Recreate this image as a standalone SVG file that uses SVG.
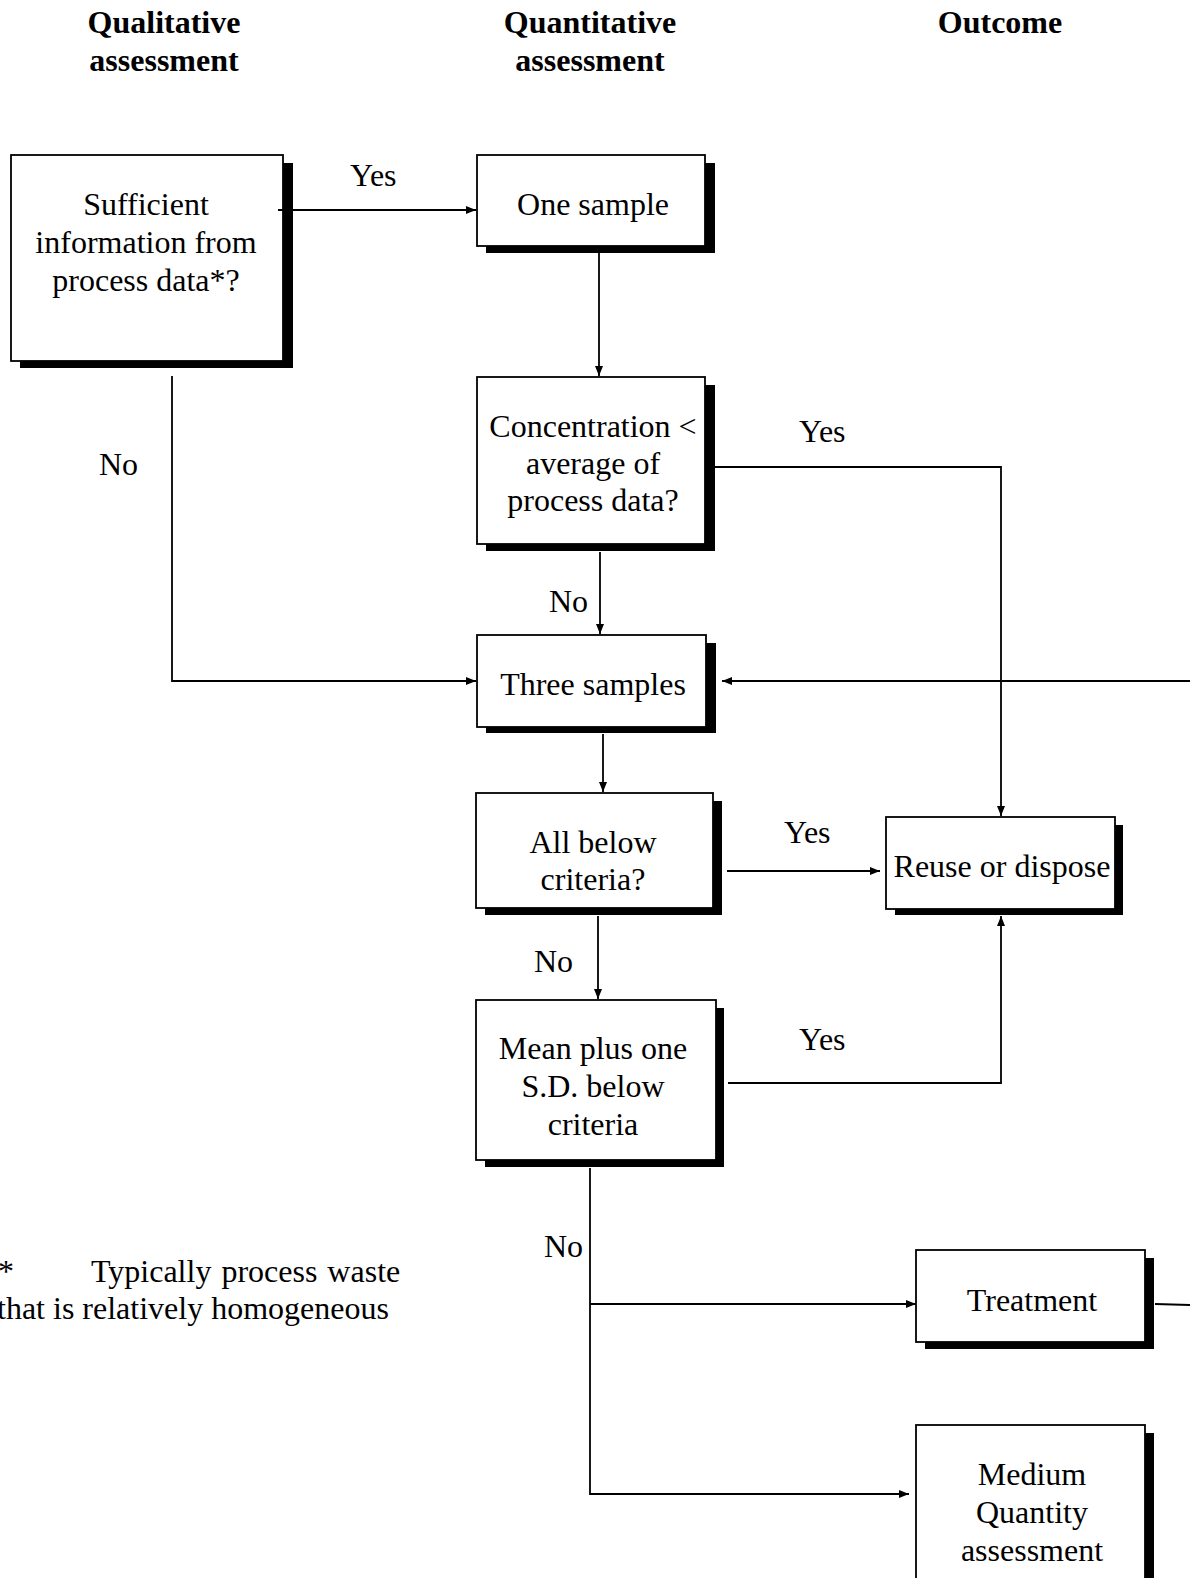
<svg xmlns="http://www.w3.org/2000/svg" width="1190" height="1578" viewBox="0 0 1190 1578">
<style>
text{font-family:"Liberation Serif","Times New Roman",serif;font-size:32px;fill:#000}
.h{font-weight:bold;text-anchor:middle}
.c{text-anchor:middle}
.box{fill:#fff;stroke:#000;stroke-width:1.8}
.sh{fill:#000}
.ln{fill:none;stroke:#000;stroke-width:1.8}
</style>
<defs>
<marker id="ar" viewBox="0 0 10 8" refX="10" refY="4" markerWidth="10" markerHeight="8" markerUnits="userSpaceOnUse" orient="auto">
<path d="M0,0 L10,4 L0,8 Z" fill="#000"/>
</marker>
</defs>
<rect width="1190" height="1578" fill="#fff"/>
<g id="headers">
<text class="h" x="164" y="33">Qualitative</text>
<text class="h" x="164" y="71">assessment</text>
<text class="h" x="590" y="33">Quantitative</text>
<text class="h" x="590" y="71">assessment</text>
<text class="h" x="1000" y="33">Outcome</text>
</g>
<g id="n1">
<rect class="sh" x="20" y="163" width="273" height="205"/>
<rect class="box" x="11" y="155" width="272" height="206"/>
<text class="c" x="146" y="215">Sufficient</text>
<text class="c" x="146" y="253">information from</text>
<text class="c" x="146" y="291">process data*?</text>
</g>
<g id="n2">
<rect class="sh" x="486" y="163" width="229" height="90"/>
<rect class="box" x="477" y="155" width="228" height="91"/>
<text class="c" x="593" y="215">One sample</text>
</g>
<g id="n3">
<rect class="sh" x="486" y="385" width="229" height="166"/>
<rect class="box" x="477" y="377" width="228" height="167"/>
<text class="c" x="593" y="437">Concentration &lt;</text>
<text class="c" x="593" y="474">average of</text>
<text class="c" x="593" y="511">process data?</text>
</g>
<g id="n4">
<rect class="sh" x="486" y="643" width="230" height="90"/>
<rect class="box" x="477" y="635" width="229" height="92"/>
<text class="c" x="593" y="695">Three samples</text>
</g>
<g id="n5">
<rect class="sh" x="485" y="801" width="237" height="114"/>
<rect class="box" x="476" y="793" width="237" height="115"/>
<text class="c" x="593" y="853">All below</text>
<text class="c" x="593" y="890">criteria?</text>
</g>
<g id="n6">
<rect class="sh" x="895" y="825" width="228" height="90"/>
<rect class="box" x="886" y="817" width="229" height="92"/>
<text class="c" x="1002" y="877">Reuse or dispose</text>
</g>
<g id="n7">
<rect class="sh" x="485" y="1008" width="239" height="159"/>
<rect class="box" x="476" y="1000" width="240" height="160"/>
<text class="c" x="593" y="1059">Mean plus one</text>
<text class="c" x="593" y="1097">S.D. below</text>
<text class="c" x="593" y="1135">criteria</text>
</g>
<g id="n8">
<rect class="sh" x="925" y="1258" width="229" height="91"/>
<rect class="box" x="916" y="1250" width="229" height="92"/>
<text class="c" x="1032" y="1311">Treatment</text>
</g>
<g id="n9">
<rect class="sh" x="925" y="1433" width="229" height="150"/>
<rect class="box" x="916" y="1425" width="229" height="160"/>
<text class="c" x="1032" y="1485">Medium</text>
<text class="c" x="1032" y="1523">Quantity</text>
<text class="c" x="1032" y="1561">assessment</text>
</g>
<g id="connectors">
<path class="ln" d="M278,210 H476" marker-end="url(#ar)"/>
<path class="ln" d="M172,376 V681 H476" marker-end="url(#ar)"/>
<path class="ln" d="M599,247 V376" marker-end="url(#ar)"/>
<path class="ln" d="M715,467 H1001 V816" marker-end="url(#ar)"/>
<path class="ln" d="M600,552 V634" marker-end="url(#ar)"/>
<path class="ln" d="M1190,681 H722" marker-end="url(#ar)"/>
<path class="ln" d="M603,734 V792" marker-end="url(#ar)"/>
<path class="ln" d="M727,871 H880" marker-end="url(#ar)"/>
<path class="ln" d="M598,916 V999" marker-end="url(#ar)"/>
<path class="ln" d="M728,1083 H1001 V916" marker-end="url(#ar)"/>
<path class="ln" d="M590,1168 V1494 H909" marker-end="url(#ar)"/>
<path class="ln" d="M590,1304 H916" marker-end="url(#ar)"/>
<path class="ln" d="M1155,1304 L1190,1305"/>
<text x="350" y="186">Yes</text>
<text x="99" y="475">No</text>
<text x="799" y="442">Yes</text>
<text x="549" y="612">No</text>
<text x="784" y="843">Yes</text>
<text x="534" y="972">No</text>
<text x="799" y="1050">Yes</text>
<text x="544" y="1257">No</text>
</g>
<g id="footnote">
<text x="-2" y="1282">*</text>
<text x="91" y="1282" word-spacing="2">Typically process waste</text>
<text x="-3" y="1319">that is relatively homogeneous</text>
</g>
</svg>
